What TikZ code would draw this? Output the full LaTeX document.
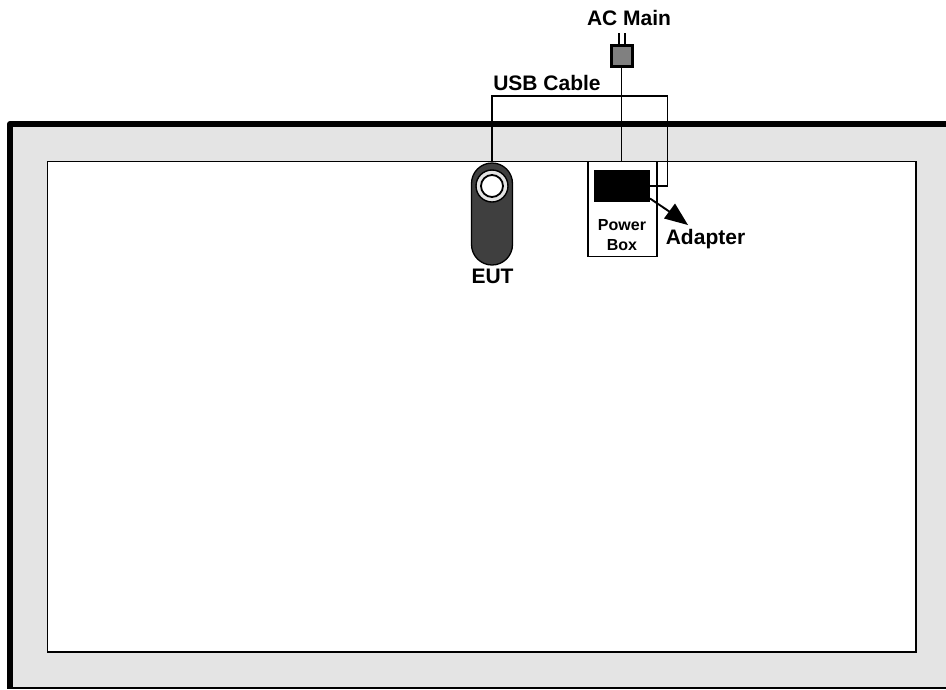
\documentclass[tikz,border=0pt]{standalone}
\usepackage{fontspec}
\setmainfont{Liberation Sans}
\definecolor{roomgrey}{HTML}{E4E4E4}
\definecolor{eutdark}{HTML}{3F3F3F}
\definecolor{plugfill}{HTML}{808080}
\tikzset{
  wire/.style={draw=black,line width=1.9pt},
  lbl/.style={font=\bfseries\fontsize{21}{23}\selectfont,inner sep=0pt,anchor=base},
  smalllbl/.style={font=\bfseries\fontsize{16}{19.4}\selectfont,inner sep=0pt,align=center}
}
\begin{document}
\begin{tikzpicture}[x=1pt,y=-1pt]
\useasboundingbox (0,0) rectangle (946,689);
\fill[white] (0,0) rectangle (946,689);
% room
\fill[roomgrey] (10,124) rectangle (946,687);
\draw[line width=2pt] (10,687.5) -- (946,687.5);
\draw[line width=6pt,line join=round] (10,688.5) -- (10,124) -- (946,124);
\node[draw=black,line width=1.9pt,fill=white,minimum width=868.5pt,minimum height=490.5pt,inner sep=0pt] (table) at (481.75,406.75) {};
% power box
\node[draw=black,line width=1.9pt,fill=white,minimum width=69.5pt,minimum height=95pt,inner sep=0pt] (box) at (622.5,209) {};
\node[fill=black,minimum width=56pt,minimum height=32pt,inner sep=0pt] (adapter) at (622,186) {};
\node[smalllbl] (boxlbl) at (622,235) {Power\\Box};
% EUT
\node[draw=black,line width=1.3pt,fill=eutdark,rounded corners=20.5pt,minimum width=41pt,minimum height=102pt,inner sep=0pt] (eut) at (492,214) {};
\node[circle,draw=black,line width=1.4pt,fill=roomgrey,minimum size=32pt,inner sep=0pt] (ring) at (492,186) {};
\node[circle,draw=black,line width=1.8pt,fill=white,minimum size=22pt,inner sep=0pt] (hole) at (492,186) {};
% plug
\node[draw=black,line width=3pt,fill=plugfill,minimum size=21pt,inner sep=0pt] (plug) at (621.5,56) {};
\coordinate (pinA) at (618.5,33);
\coordinate (pinB) at (625,33);
\draw[line width=2pt] (pinA) -- (pinA |- plug.north);
\draw[line width=2pt] (pinB) -- (pinB |- plug.north);
% wires
\draw[wire] (plug.south) -- (plug.south |- box.north);
\coordinate (usbTL) at (eut.north |- 0,96);
\coordinate (usbTR) at (667.5,96);
\coordinate (usbBR) at (667.5,186);
\draw[wire] (eut.north) -- (usbTL) -- (usbTR) -- (usbBR) -- (adapter.east |- usbBR);
% arrow
\coordinate (arrowTip) at (688,225);
\coordinate (arrowBase) at (650,198.5);
\draw[line width=1.9pt] (arrowBase) -- (670,212);
\fill[black] (arrowTip) -- (664,218.5) -- (675,203.5) -- cycle;
% labels
\node[lbl] (acmain) at (629,25) {AC Main};
\node[lbl] (usb) at (547,90.7) {USB Cable};
\node[lbl] (adl) at (705.5,244) {Adapter};
\node[lbl] (eutl) at (492.5,283.3) {EUT};
\end{tikzpicture}
\end{document}
